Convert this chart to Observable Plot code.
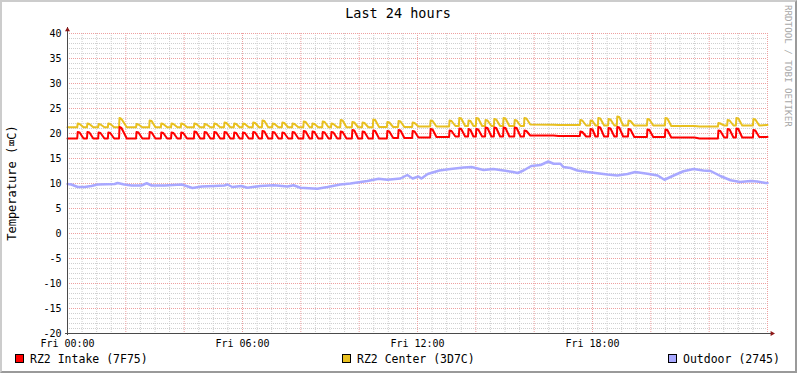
<!DOCTYPE html>
<html>
<head>
<meta charset="utf-8">
<script src="https://cdn.jsdelivr.net/npm/d3@7"></script>
<script src="https://cdn.jsdelivr.net/npm/@observablehq/plot@0.6"></script>
<style>
html, body { margin: 0; padding: 0; background: #ffffff; }
#wrap { position: relative; width: 797px; height: 373px; background: #ffffff; overflow: hidden;
        font-family: "DejaVu Sans Mono", monospace; }
#wrap > svg { position: absolute; left: 0; top: 0; }
#border { position: absolute; left: 0; top: 0; width: 797px; height: 373px; box-sizing: border-box;
          border-top: 2px solid #cccccc; border-left: 2px solid #cccccc;
          border-right: 2px solid #9a9a9a; border-bottom: 2px solid #9a9a9a; pointer-events: none; }
</style>
</head>
<body>
<div id="wrap"><div id="border"></div></div>
<script>
// ---- data (minutes since Fri 00:00, °C) ----
const title = "Last 24 hours";
const yLabel = "Temperature (\u2327C)";
const watermark = "RRDTOOL / TOBI OETIKER";
const seriesNames = ["RZ2 Intake (7F75)", "RZ2 Center (3D7C)", "Outdoor (2745)"];
const seriesColors = ["#ff0000", "#e8c020", "#a8a8ff"];

const yMajorTicks = [-20, -15, -10, -5, 0, 5, 10, 15, 20, 25, 30, 35, 40];
const xLabelMinutes = [0, 360, 720, 1080];
const xLabels = ["Fri 00:00", "Fri 06:00", "Fri 12:00", "Fri 18:00"];

const intake = [
[0,19.0],[20,19.0],[21,20.3],[25,20.2],[33,19.0],[40,19.0],[41,20.3],[45,20.2],[53,19.0],
[63,19.0],[64,20.2],[68,20.1],[76,19.0],[83,19.0],[84,20.2],[88,20.1],[96,19.0],
[106,19.0],[107,21.3],[111,21.1],[122,19.0],[141,19.0],[142,20.3],[146,20.2],[154,19.0],
[168,19.0],[169,20.3],[173,20.2],[181,19.0],[192,19.0],[193,20.2],[197,20.1],[205,19.0],
[213,19.0],[214,20.2],[218,20.1],[226,19.0],[233,19.0],[234,20.2],[238,20.1],[246,19.0],
[260,19.0],[261,20.4],[265,20.3],[273,19.0],[281,19.0],[282,20.3],[286,20.2],[294,19.0],
[301,19.0],[302,20.3],[306,20.2],[314,19.0],[322,19.0],[323,20.3],[327,20.2],[335,19.0],
[342,19.0],[343,20.2],[347,20.1],[354,19.0],[360,19.0],[361,20.2],[365,20.1],[373,19.0],
[381,19.0],[382,20.3],[386,20.2],[394,19.0],[400,19.0],[401,20.5],[405,20.4],[413,19.0],
[421,19.0],[422,20.3],[426,20.2],[434,19.0],[441,19.0],[442,20.2],[446,20.1],[454,19.0],
[462,19.0],[463,20.3],[467,20.2],[475,19.0],[485,19.0],[486,20.5],[490,20.4],[498,19.0],
[503,19.0],[504,20.4],[508,20.3],[516,19.0],[524,19.0],[525,20.3],[529,20.2],[537,19.0],
[542,19.0],[543,20.3],[547,20.2],[555,19.0],[561,19.0],[562,20.4],[566,20.3],[574,19.0],
[585,19.0],[586,20.7],[590,20.6],[598,19.0],[606,19.0],[607,20.4],[611,20.3],[619,19.0],
[628,19.0],[629,20.6],[633,20.5],[641,19.0],[657,19.0],[658,20.5],[662,20.4],[670,19.1],
[680,19.1],[681,20.7],[685,20.6],[693,19.1],[709,19.1],[710,20.5],[714,20.4],[722,19.2],
[746,19.2],[747,20.9],[751,20.8],[759,19.3],[785,19.3],[786,20.6],[790,20.5],[798,19.4],
[805,19.4],[806,21.0],[810,20.9],[818,19.4],[824,19.4],[825,20.9],[829,20.7],[835,19.4],
[840,19.4],[841,20.9],[845,20.8],[853,19.4],[859,19.4],[860,21.2],[864,21.1],[872,19.4],
[877,19.4],[878,21.2],[882,21.1],[890,19.4],[896,19.4],[897,21.2],[901,21.1],[909,19.4],
[919,19.4],[920,21.2],[924,21.1],[932,19.4],[939,19.4],[940,20.6],[944,20.5],[952,19.6],
[1000,19.6],[1010,19.5],[1054,19.5],[1055,20.4],[1059,20.3],[1067,19.4],
[1075,19.4],[1076,20.9],[1080,20.8],[1086,19.4],[1091,19.4],[1092,21.3],[1096,21.2],[1104,19.4],
[1112,19.4],[1113,21.1],[1117,21.0],[1125,19.4],[1130,19.4],[1131,21.3],[1135,21.2],[1143,19.4],
[1153,19.4],[1154,20.9],[1158,20.8],[1166,19.3],[1192,19.3],[1193,20.8],[1197,20.7],[1205,19.3],
[1229,19.3],[1230,20.8],[1234,20.7],[1242,19.2],[1290,19.2],[1300,19.0],[1338,19.0],
[1339,20.6],[1343,20.5],[1351,19.2],[1357,19.2],[1358,20.9],[1362,20.8],[1370,19.2],
[1375,19.2],[1376,21.0],[1380,20.9],[1388,19.2],[1410,19.2],[1411,20.7],[1415,20.6],[1423,19.3],[1440,19.3]
];

const center = [
[0,21.25],[20,21.25],[21,22.0],[25,21.9],[33,21.25],[40,21.25],[41,22.0],[45,21.9],[53,21.25],
[63,21.25],[64,21.9],[68,21.8],[76,21.25],[83,21.25],[84,22.0],[88,21.9],[96,21.25],
[106,21.25],[107,23.1],[111,22.9],[122,21.25],[141,21.25],[142,21.9],[146,21.8],[154,21.25],
[168,21.25],[169,22.6],[173,22.5],[181,21.25],[192,21.25],[193,22.0],[197,21.9],[205,21.25],
[213,21.25],[214,22.0],[218,21.9],[226,21.25],[233,21.25],[234,22.0],[238,21.9],[246,21.25],
[260,21.25],[261,22.0],[265,21.9],[273,21.25],[281,21.25],[282,21.9],[286,21.8],[294,21.25],
[301,21.25],[302,22.0],[306,21.9],[314,21.25],[322,21.25],[323,22.2],[327,22.1],[335,21.25],
[342,21.25],[343,22.0],[347,21.9],[354,21.25],[360,21.25],[361,22.0],[365,21.9],[373,21.25],
[381,21.25],[382,22.2],[386,22.1],[394,21.25],[400,21.25],[401,22.6],[405,22.5],[413,21.25],
[421,21.25],[422,22.0],[426,21.9],[434,21.25],[441,21.25],[442,22.2],[446,22.1],[454,21.25],
[462,21.25],[463,22.0],[467,21.9],[475,21.25],[485,21.25],[486,22.4],[490,22.3],[498,21.25],
[503,21.25],[504,22.0],[508,21.9],[516,21.25],[524,21.25],[525,22.4],[529,22.3],[537,21.25],
[542,21.25],[543,22.0],[547,21.9],[555,21.25],[561,21.25],[562,22.7],[566,22.6],[574,21.25],
[585,21.25],[586,22.3],[590,22.2],[598,21.25],[606,21.25],[607,22.2],[611,22.1],[619,21.25],
[628,21.25],[629,22.8],[633,22.7],[641,21.3],[657,21.3],[658,22.3],[662,22.2],[670,21.3],
[680,21.3],[681,22.5],[685,22.4],[693,21.3],[709,21.3],[710,22.2],[714,22.1],[722,21.4],
[746,21.4],[747,22.6],[751,22.5],[759,21.4],[785,21.4],[786,22.6],[790,22.5],[798,21.5],
[805,21.5],[806,23.1],[810,23.0],[818,21.5],[824,21.5],[825,22.6],[829,22.5],[835,21.5],
[840,21.5],[841,23.1],[845,23.0],[853,21.5],[859,21.5],[860,22.7],[864,22.6],[872,21.5],
[877,21.5],[878,22.9],[882,22.8],[890,21.5],[896,21.5],[897,23.1],[901,23.0],[909,21.5],
[919,21.5],[920,22.7],[924,22.6],[932,21.5],[939,21.5],[940,23.1],[944,23.0],[952,21.8],
[1000,21.75],[1010,21.7],[1054,21.7],[1055,22.7],[1059,22.6],[1067,21.6],
[1075,21.6],[1076,22.6],[1080,22.5],[1086,21.6],[1091,21.6],[1092,23.1],[1096,23.0],[1104,21.6],
[1112,21.6],[1113,22.9],[1117,22.8],[1125,21.6],[1130,21.6],[1131,23.4],[1135,23.3],[1143,21.6],
[1153,21.6],[1154,22.6],[1158,22.5],[1166,21.6],[1192,21.6],[1193,22.9],[1197,22.8],[1205,21.6],
[1229,21.6],[1230,23.1],[1234,23.0],[1242,21.5],[1290,21.5],[1300,21.4],[1338,21.4],
[1339,22.1],[1343,22.0],[1351,21.6],[1357,21.6],[1358,22.7],[1362,22.6],[1370,21.6],
[1375,21.6],[1376,23.1],[1380,23.0],[1388,21.6],[1410,21.6],[1411,22.9],[1415,22.8],[1423,21.6],[1440,21.7]
];

const outdoor = [
[0,9.9],[8,9.8],[21,9.3],[35,9.3],[49,9.5],[62,9.8],[97,9.9],[103,10.1],[117,9.8],[132,9.6],[152,9.6],
[163,10.05],[173,9.6],[200,9.6],[235,9.8],[257,9.1],[276,9.4],[302,9.5],[323,9.6],[329,9.8],[339,9.3],
[358,9.5],[370,9.15],[397,9.5],[424,9.65],[453,9.4],[465,9.65],[479,9.15],[514,8.95],[535,9.3],
[561,9.8],[582,10.0],[603,10.3],[617,10.5],[640,10.95],[658,10.75],[685,11.0],[699,11.7],[710,11.0],
[722,11.4],[728,11.0],[741,11.9],[765,12.6],[788,12.9],[815,13.2],[831,13.3],[856,12.7],[876,12.9],
[897,12.6],[917,12.3],[926,12.1],[938,12.6],[954,13.5],[973,13.7],[979,13.95],[989,14.4],[1000,13.95],
[1014,13.95],[1020,13.3],[1035,13.1],[1049,12.6],[1070,12.3],[1090,12.07],[1111,11.8],[1131,11.6],
[1152,11.9],[1168,12.3],[1193,11.95],[1214,11.6],[1228,10.75],[1247,11.6],[1267,12.45],[1288,12.9],
[1308,12.6],[1323,12.5],[1343,11.5],[1364,10.65],[1384,10.3],[1405,10.5],[1419,10.4],[1436,10.1],[1440,10.1]
];

// ---- grid helpers ----
const yMinor = d3.range(-20, 41, 1).filter(v => v % 5 !== 0);
const xMinor = d3.range(0, 1441, 30).filter(v => v % 120 !== 0);
const xMajor = d3.range(0, 1441, 120).filter(v => v !== 0);
const yMajorGrid = yMajorTicks.filter(v => v !== -20);

const font = '"DejaVu Sans Mono", monospace';
const axisColor = "#4a4a4a";
const arrowColor = "#8e1818";

const chart = Plot.plot({
  width: 797, height: 373,
  marginLeft: 67, marginRight: 30, marginTop: 33, marginBottom: 40,
  style: { background: "transparent", fontFamily: font, fontSize: "10px", color: "#000", overflow: "visible" },
  x: { domain: [0, 1440], axis: null },
  y: { domain: [-20, 40], axis: null },
  marks: [
    Plot.ruleY(yMinor, { stroke: "#cfcfcf", strokeDasharray: "1,1" }),
    Plot.ruleX(xMinor, { stroke: "#cfcfcf", strokeDasharray: "1,1" }),
    Plot.ruleY(yMajorGrid, { stroke: "#eea0a0", strokeDasharray: "1,1" }),
    Plot.ruleX(xMajor, { stroke: "#eea0a0", strokeDasharray: "1,1" }),
    Plot.line(outdoor, { x: d => d[0], y: d => d[1], stroke: seriesColors[2], strokeWidth: 2.5 }),
    Plot.line(center, { x: d => d[0], y: d => d[1], stroke: seriesColors[1], strokeWidth: 2 }),
    Plot.line(intake, { x: d => d[0], y: d => d[1], stroke: seriesColors[0], strokeWidth: 2 }),
    Plot.axisY({ ticks: yMajorTicks, tickSize: 0, tickPadding: 6, tickFormat: d => String(d), label: null,
                 fontSize: 10, fill: "#000" }),
    Plot.axisX({ ticks: xLabelMinutes, tickSize: 0, tickPadding: 6,
                 tickFormat: d => xLabels[xLabelMinutes.indexOf(d)], label: null, fontSize: 10, fill: "#000" }),
    Plot.ruleX([0], { y1: -20.4, y2: 41.2, stroke: axisColor }),
    Plot.ruleY([-20], { x1: -4, x2: 1449, stroke: axisColor }),
    Plot.dot([[0, 40]], { x: d => d[0], y: d => d[1], symbol: "triangle2", r: 2.4, fill: arrowColor, dy: -3.6 }),
    Plot.dot([[1440, -20]], { x: d => d[0], y: d => d[1], symbol: "triangle2", r: 2.4, fill: arrowColor, rotate: 90, dx: 4.6 })
  ]
});
const wrap = document.getElementById("wrap");
wrap.insertBefore(chart, document.getElementById("border"));

// ---- title, y label, watermark, legend ----
const ov = d3.create("svg").attr("width", 797).attr("height", 373)
  .style("font-family", font).style("pointer-events", "none");
ov.append("text").attr("x", 398).attr("y", 18).attr("text-anchor", "middle")
  .attr("font-size", 13.5).attr("fill", "#000").text(title);
ov.append("text").attr("transform", "translate(15.5,183) rotate(-90)").attr("text-anchor", "middle")
  .attr("font-size", 12).attr("fill", "#000").text(yLabel);
ov.append("text").attr("transform", "translate(785,5) rotate(90)").attr("text-anchor", "start")
  .attr("font-size", 9.2).attr("fill", "#a8a8a8").text(watermark);
const legendX = [15, 342, 668];
seriesNames.forEach((name, i) => {
  ov.append("rect").attr("x", legendX[i] + 0.5).attr("y", 354.5).attr("width", 8).attr("height", 8)
    .attr("fill", seriesColors[i]).attr("stroke", "#000").attr("stroke-width", 1);
  ov.append("text").attr("x", legendX[i] + 15).attr("y", 362.5).attr("font-size", 11.5)
    .attr("fill", "#000").text(name);
});
wrap.insertBefore(ov.node(), document.getElementById("border"));
</script>
</body>
</html>
